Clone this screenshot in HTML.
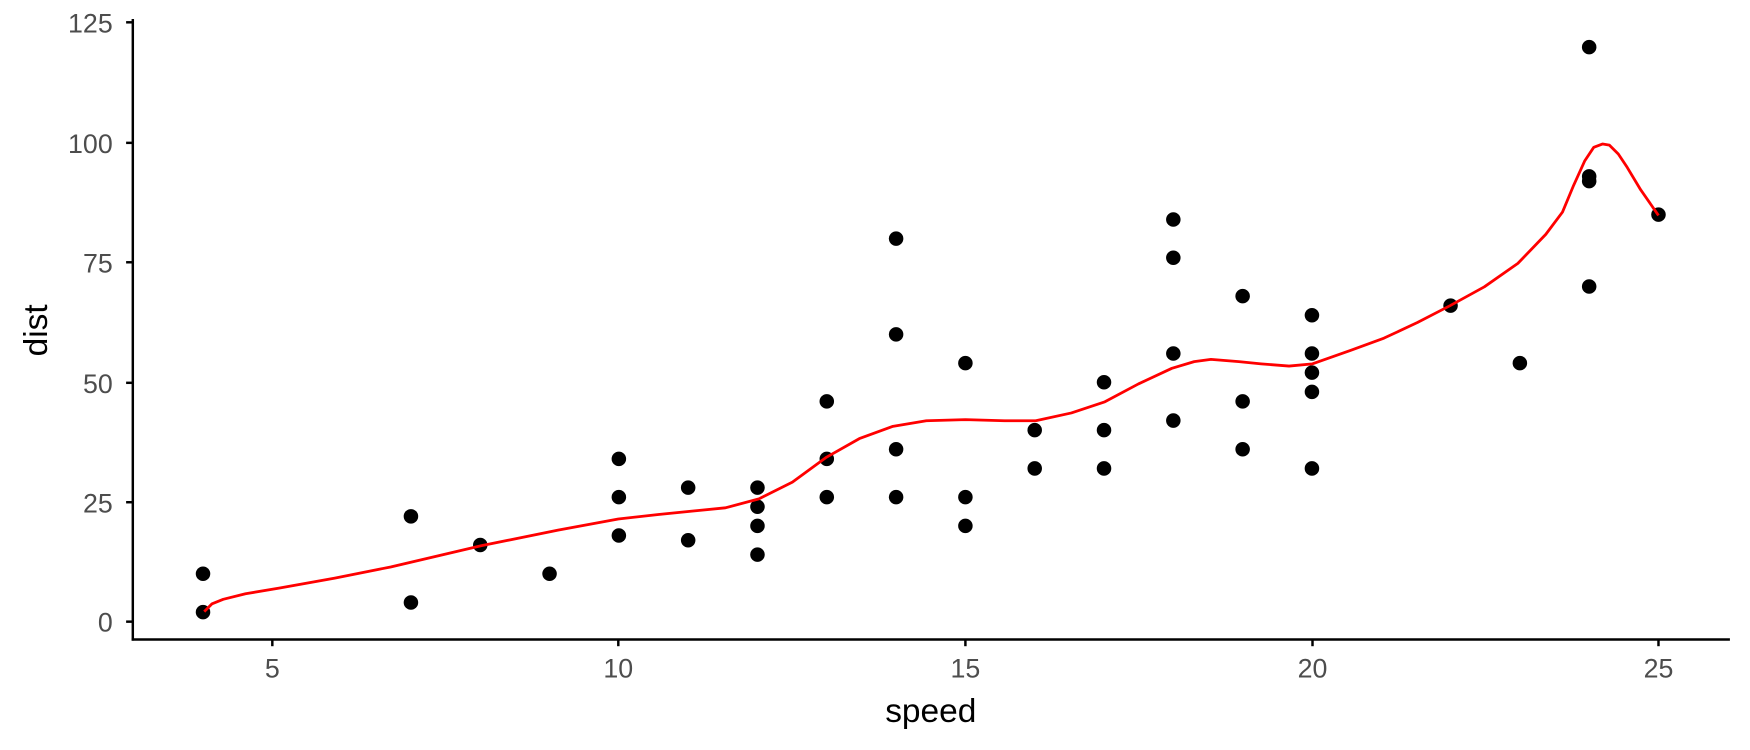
<!DOCTYPE html>
<html><head><style>body{margin:0;background:#fff}svg{display:block}</style></head><body>
<svg width="1750" height="750" viewBox="0 0 1568 672" xmlns="http://www.w3.org/2000/svg" font-family="Liberation Sans, sans-serif">
<rect width="1568" height="672" fill="#fff"/>
<g stroke="#000" stroke-width="2.2" fill="none">
<line x1="119" y1="17" x2="119" y2="574"/>
<line x1="118" y1="573" x2="1550" y2="573"/>
<g>
<line x1="113" y1="557" x2="119" y2="557"/><line x1="113" y1="450" x2="119" y2="450"/><line x1="113" y1="343" x2="119" y2="343"/><line x1="113" y1="235" x2="119" y2="235"/><line x1="113" y1="128" x2="119" y2="128"/><line x1="113" y1="20" x2="119" y2="20"/>
<line x1="244" y1="573" x2="244" y2="579"/><line x1="554" y1="573" x2="554" y2="579"/><line x1="865" y1="573" x2="865" y2="579"/><line x1="1176" y1="573" x2="1176" y2="579"/><line x1="1486" y1="573" x2="1486" y2="579"/>
</g></g>
<g font-size="24" fill="#4d4d4d" text-anchor="end">
<text x="101" y="566">0</text><text x="101" y="459">25</text><text x="101" y="352">50</text><text x="101" y="244">75</text><text x="101" y="137">100</text><text x="101" y="29">125</text>
</g>
<g font-size="24" fill="#4d4d4d" text-anchor="middle">
<text x="244" y="607">5</text><text x="554" y="607">10</text><text x="865" y="607">15</text><text x="1176" y="607">20</text><text x="1486" y="607">25</text>
</g>
<text x="834" y="647" font-size="30" text-anchor="middle">speed</text>
<text transform="translate(42,296) rotate(-90)" font-size="30" text-anchor="middle">dist</text>
<g fill="#000" id="pts"></g>
<polyline fill="none" stroke="#ff0000" stroke-width="2.5" stroke-linejoin="round" points="183,548 190,541 200,537 220,532 250,527 300,518 350,508 431,489 500,475 554,465 590,461 620,458 650,455 680,447 710,432 740,410 770,393 800,382 830,377 865,376 900,377 928,377 960,370 990,360 1020,344 1050,330 1070,324 1085,322 1110,324 1130,326 1155,328 1176,326 1210,314 1240,303 1270,289 1299,274 1330,257 1360,236 1385,210 1400,190 1410,166 1420,144 1428,132 1436,129 1442,130 1450,138 1458,150 1470,170 1486,193"/>
</svg>
<script>
var d=[[4,2],[4,10],[7,4],[7,22],[8,16],[9,10],[10,18],[10,26],[10,34],[11,17],[11,28],[12,14],[12,20],[12,24],[12,28],[13,26],[13,34],[13,46],[14,26],[14,36],[14,60],[14,80],[15,20],[15,26],[15,54],[16,32],[16,40],[17,32],[17,40],[17,50],[18,42],[18,56],[18,76],[18,84],[19,36],[19,46],[19,68],[20,32],[20,48],[20,52],[20,56],[20,64],[22,66],[23,54],[24,70],[24,92],[24,93],[24,120],[25,85]];
var g=document.getElementById('pts'),s='';
d.forEach(function(p){s+='<circle cx="'+(244+(p[0]-5)*62.1)+'" cy="'+(557-p[1]*4.29)+'" r="6.5"/>';});
g.innerHTML=s;
</script>
</body></html>
